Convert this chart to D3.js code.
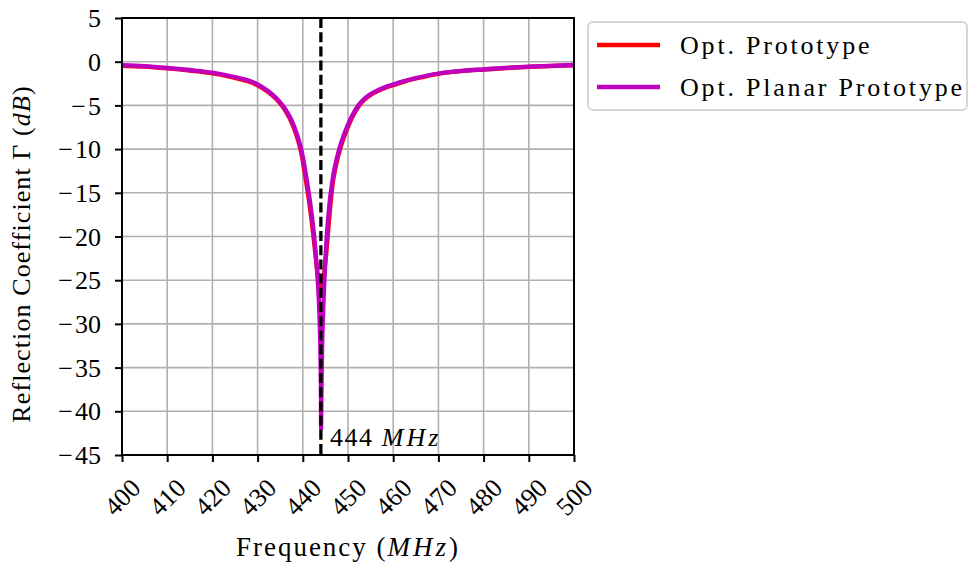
<!DOCTYPE html>
<html>
<head>
<meta charset="utf-8">
<script src="https://cdnjs.cloudflare.com/ajax/libs/d3/7.8.5/d3.min.js"></script>
<style>
body { margin: 0; background: #fff; }
svg text { font-family: "Liberation Serif", "DejaVu Serif", serif; fill: #000; }
</style>
</head>
<body>
<svg id="chart" width="969" height="563"></svg>
<script>
// data
var xTicks = [400, 410, 420, 430, 440, 450, 460, 470, 480, 490, 500];
var yTicks = [5, 0, -5, -10, -15, -20, -25, -30, -35, -40, -45];

var protoFreq = [400, 405, 410, 415, 420, 425, 428, 430, 432, 434, 435.7, 437, 438, 439, 439.6, 440, 441.2, 442, 442.7, 443.2, 443.6, 444.0, 444.4, 444.8, 445.3, 445.7, 446.0, 446.4, 446.8, 447.5, 448.2, 449, 450, 451, 452.3, 453.5, 455, 458, 460, 462.6, 465, 470, 475, 480, 485, 490, 495, 500];
var protoDb = [-0.47, -0.57, -0.77, -1.02, -1.33, -1.85, -2.25, -2.7, -3.35, -4.2, -5.25, -6.4, -7.55, -9.1, -10.3, -11.4, -15.3, -18.4, -21.6, -24.0, -25.4, -26, -25.4, -23.8, -21.3, -18.8, -17.0, -14.9, -13.3, -11.5, -10.1, -8.8, -7.45, -6.3, -5.15, -4.42, -3.8, -3.05, -2.68, -2.25, -1.92, -1.38, -1.09, -0.9, -0.73, -0.6, -0.49, -0.41];

var planarFreq = [400, 405, 410, 415, 420, 425, 428, 430, 432, 434, 435.7, 437, 438, 439, 439.6, 440, 441.2, 442, 442.7, 443.4, 443.8, 444.0, 444.05, 444.15, 444.3, 444.6, 444.9, 445.3, 445.7, 446.0, 446.4, 446.8, 447.5, 448.2, 449, 450, 451, 452.3, 453.5, 455, 458, 460, 462.6, 465, 470, 475, 480, 485, 490, 495, 500];
var planarDb = [-0.4, -0.5, -0.7, -0.95, -1.25, -1.75, -2.15, -2.6, -3.25, -4.1, -5.1, -6.2, -7.3, -8.8, -9.9, -10.9, -14.6, -17.6, -21, -25.8, -31, -37, -42, -37, -32, -27.2, -23.8, -20.0, -17.4, -15.8, -14.2, -12.8, -11.1, -9.75, -8.5, -7.2, -6.1, -5.0, -4.3, -3.7, -2.95, -2.6, -2.2, -1.87, -1.35, -1.05, -0.87, -0.7, -0.57, -0.47, -0.38];

var resonance = 444;
var seriesNames = ["Opt. Prototype", "Opt. Planar Prototype"];
var seriesColors = ["#ff0000", "#bf00bf"];

var svg = d3.select("#chart");
var pLeft = 122, pRight = 574, pTop = 18, pBottom = 455;

var x = d3.scaleLinear().domain([400, 500]).range([pLeft, pRight]);
var y = d3.scaleLinear().domain([-45, 5]).range([pBottom, pTop]);

// grid
svg.append("g").selectAll("line").data(xTicks).join("line")
  .attr("x1", d => x(d)).attr("x2", d => x(d))
  .attr("y1", pTop).attr("y2", pBottom)
  .attr("stroke", "#b0b0b0").attr("stroke-width", 1.6);
svg.append("g").selectAll("line").data(yTicks).join("line")
  .attr("x1", pLeft).attr("x2", pRight)
  .attr("y1", d => y(d)).attr("y2", d => y(d))
  .attr("stroke", "#b0b0b0").attr("stroke-width", 1.6);

var line = d3.line().curve(d3.curveCatmullRom.alpha(0.5));
var series = [
  d3.zip(protoFreq, protoDb),
  d3.zip(planarFreq, planarDb)
];
series.forEach(function(s, i){
  svg.append("path")
    .attr("d", line(s.map(p => [x(p[0]), y(p[1])])))
    .attr("fill", "none")
    .attr("stroke", seriesColors[i])
    .attr("stroke-width", 4.3)
    .attr("stroke-linejoin", "round");
});

// resonance marker
svg.append("line")
  .attr("x1", x(resonance)).attr("x2", x(resonance))
  .attr("y1", y(5)).attr("y2", y(-45))
  .attr("stroke", "#000").attr("stroke-width", 3.3)
  .attr("stroke-dasharray", "10,4.2");

var ann = svg.append("text")
  .attr("x", x(resonance) + 9).attr("y", 446)
  .style("font-size", "26px").style("letter-spacing", "1.6px");
ann.append("tspan").text("444 ");
ann.append("tspan").style("font-style", "italic").style("letter-spacing", "3px").text("MHz");

// axes
var xAxis = svg.append("g").attr("transform", "translate(0," + pBottom + ")")
  .call(d3.axisBottom(x).tickValues(xTicks).tickSize(7).tickFormat(""));
var yAxis = svg.append("g").attr("transform", "translate(" + pLeft + ",0)")
  .call(d3.axisLeft(y).tickValues(yTicks).tickSize(7).tickFormat(""));
[xAxis, yAxis].forEach(function(a){
  a.select(".domain").remove();
  a.selectAll(".tick line").attr("stroke", "#000").attr("stroke-width", 2);
});

svg.append("rect")
  .attr("x", pLeft).attr("y", pTop)
  .attr("width", pRight - pLeft).attr("height", pBottom - pTop)
  .attr("fill", "none").attr("stroke", "#000").attr("stroke-width", 2);

// tick labels
svg.append("g").selectAll("text").data(xTicks).join("text")
  .attr("transform", d => "translate(" + x(d) + ",497) rotate(-45)")
  .attr("text-anchor", "middle").attr("dy", "0.35em")
  .style("font-size", "26px")
  .text(d => d);
svg.append("g").selectAll("text").data(yTicks).join("text")
  .attr("x", pLeft - 21).attr("y", d => y(d)).attr("dy", "0.35em")
  .attr("text-anchor", "end")
  .style("font-size", "26px")
  .text(d => d < 0 ? "\u2212\u200A" + Math.abs(d) : d);

// axis titles
var xt = svg.append("text").attr("x", 348).attr("y", 556)
  .attr("text-anchor", "middle").style("font-size", "27px").style("letter-spacing", "2px");
xt.append("tspan").text("Frequency (");
xt.append("tspan").style("font-style", "italic").style("letter-spacing", "3px").text("MHz");
xt.append("tspan").text(")");

var yt = svg.append("text")
  .attr("transform", "translate(30,254) rotate(-90)")
  .attr("text-anchor", "middle").style("font-size", "26px").style("letter-spacing", "1.1px");
yt.append("tspan").text("Reflection Coefficient \u0393 (");
yt.append("tspan").style("font-style", "italic").text("dB");
yt.append("tspan").text(")");

// legend
var lg = svg.append("g");
lg.append("rect")
  .attr("x", 588).attr("y", 22).attr("width", 379).attr("height", 88)
  .attr("rx", 5).attr("fill", "#fff").attr("stroke", "#d6d6d6").attr("stroke-width", 2);
seriesNames.forEach(function(n, i){
  var ly = 45 + i * 42;
  lg.append("line").attr("x1", 597).attr("x2", 660).attr("y1", ly).attr("y2", ly)
    .attr("stroke", seriesColors[i]).attr("stroke-width", 4.5);
  lg.append("text").attr("x", 680).attr("y", ly).attr("dy", "0.35em")
    .style("font-size", "26px").style("letter-spacing", "2.8px")
    .text(n);
});
</script>
</body>
</html>
